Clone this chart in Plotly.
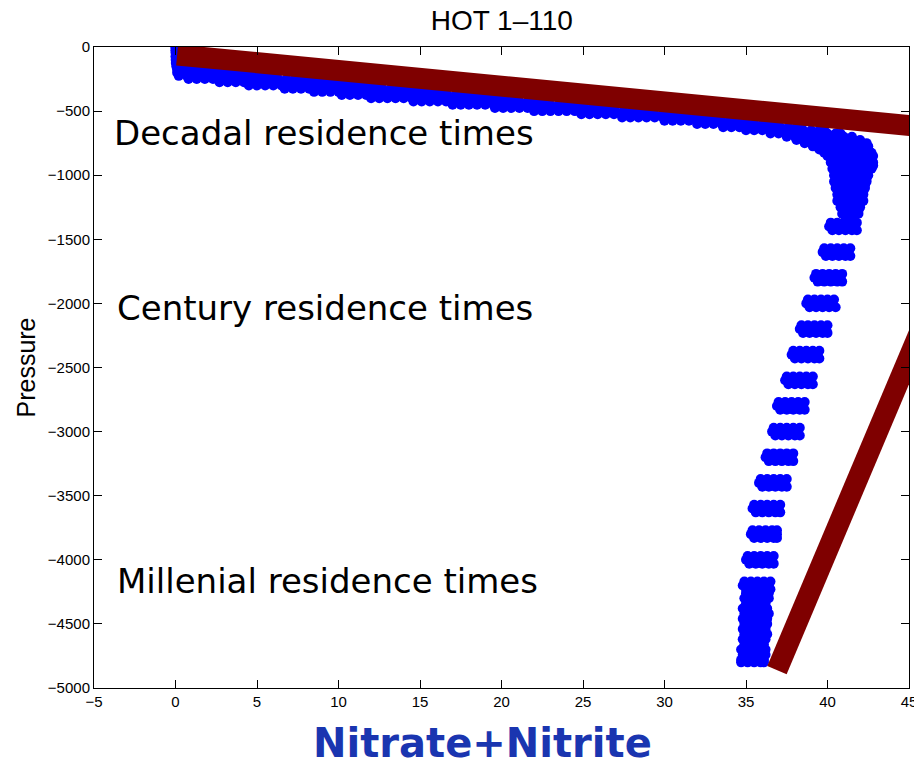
import plotly.graph_objects as go

# ---- Data (HOT cruises 1-110 nitrate+nitrite profiles) ----
# Each pressure level holds the nitrate+nitrite values observed there.
pressure_levels = [
    -5, -25, -45, -75, -100, -125, -150, -175, -200, -225,
    -250, -275, -300, -325, -350, -375, -400, -425, -450, -475,
    -500, -525, -550, -575, -600, -625, -650, -675, -700, -725,
    -750, -775, -800, -825, -850, -875, -900, -925, -950, -975,
    -1000, -1025, -1050, -1075, -1100, -1125, -1150, -1175, -1200, -1225,
    -1250, -1275, -1300, -1325,
    -1370, -1400, -1430,
    -1570, -1600, -1630,
    -1770, -1800, -1830,
    -1970, -2000, -2030,
    -2170, -2200, -2230,
    -2370, -2400, -2430,
    -2570, -2600, -2630,
    -2770, -2800, -2830,
    -2970, -3000, -3030,
    -3170, -3200, -3230,
    -3370, -3400, -3430,
    -3570, -3600, -3630,
    -3770, -3800, -3830,
    -3970, -4000, -4030,
    -4170, -4200, -4230,
    -4260, -4300, -4340, -4380, -4420, -4460, -4500, -4540, -4580, -4620,
    -4660, -4700, -4740, -4780, -4800,
]

nitrate_at_level = [
    [0.0, 0.01, 0.05],
    [0.0, 0.02, 0.1],
    [0.0, 0.03, 0.1],
    [0.0, 0.05, 0.15],
    [0.01, 0.1, 0.3],
    [0.02, 0.2, 0.6],
    [0.05, 0.4, 0.8, 1.2],
    [0.1, 0.5, 1.0, 1.5, 2.0, 2.5, 3.0],
    [0.1, 0.5, 1.0, 1.5, 2.0, 2.5, 3.0, 3.5, 4.0, 4.5],
    [0.2, 0.7, 1.2, 1.7, 2.2, 2.7, 3.2, 3.7, 4.2, 4.7, 5.2, 5.7, 6.2],
    [0.8, 1.3, 1.8, 2.3, 2.8, 3.3, 3.8, 4.3, 4.8, 5.3, 5.8, 6.3, 6.8, 7.3, 7.8, 8.3, 8.8],
    [2.7, 3.2, 3.7, 4.2, 4.7, 5.2, 5.7, 6.2, 6.7, 7.2, 7.7, 8.2, 8.7, 9.2, 9.7, 10.2, 10.6],
    [4.5, 5.0, 5.5, 6.0, 6.5, 7.0, 7.5, 8.0, 8.5, 9.0, 9.5, 10.0, 10.5, 11.0, 11.5, 12.0, 12.5],
    [6.7, 7.2, 7.7, 8.2, 8.7, 9.2, 9.7, 10.2, 10.7, 11.2, 11.7, 12.2, 12.7, 13.2, 13.7, 14.2, 14.6],
    [8.5, 9.0, 9.5, 10.0, 10.5, 11.0, 11.5, 12.0, 12.5, 13.0, 13.5, 14.0, 14.5, 15.0, 15.5, 16.0, 16.5],
    [10.2, 10.7, 11.2, 11.7, 12.2, 12.7, 13.2, 13.7, 14.2, 14.7, 15.2, 15.7, 16.2, 16.7, 17.2, 17.7, 18.2, 18.7, 19.0],
    [12.0, 12.5, 13.0, 13.5, 14.0, 14.5, 15.0, 15.5, 16.0, 16.5, 17.0, 17.5, 18.0, 18.5, 19.0, 19.5, 20.0, 20.5, 20.8],
    [14.6, 15.1, 15.6, 16.1, 16.6, 17.1, 17.6, 18.1, 18.6, 19.1, 19.6, 20.1, 20.6, 21.1, 21.6, 22.1, 22.5],
    [17.0, 17.5, 18.0, 18.5, 19.0, 19.5, 20.0, 20.5, 21.0, 21.5, 22.0, 22.5, 23.0, 23.5, 24.0, 24.5, 25.0],
    [19.6, 20.1, 20.6, 21.1, 21.6, 22.1, 22.6, 23.1, 23.6, 24.1, 24.6, 25.1, 25.6, 26.1, 26.6, 26.9],
    [22.0, 22.5, 23.0, 23.5, 24.0, 24.5, 25.0, 25.5, 26.0, 26.5, 27.0, 27.5, 28.0, 28.5, 29.0],
    [24.9, 25.4, 25.9, 26.4, 26.9, 27.4, 27.9, 28.4, 28.9, 29.4, 29.9, 30.4, 30.9, 31.1],
    [27.4, 27.9, 28.4, 28.9, 29.4, 29.9, 30.4, 30.9, 31.4, 31.9, 32.4, 32.9, 33.2],
    [30.0, 30.5, 31.0, 31.5, 32.0, 32.5, 33.0, 33.5, 34.0, 34.5, 35.0],
    [32.0, 32.5, 33.0, 33.5, 34.0, 34.5, 35.0, 35.5, 36.0, 36.5, 36.9],
    [33.6, 34.1, 34.6, 35.1, 35.6, 36.1, 36.6, 37.1, 37.6, 38.1, 38.4],
    [35.0, 35.5, 36.0, 36.5, 37.0, 37.5, 38.0, 38.5, 39.0, 39.5, 39.8],
    [36.5, 37.0, 37.5, 38.0, 38.5, 39.0, 39.5, 40.0, 40.5, 40.8],
    [37.5, 38.0, 38.5, 39.0, 39.5, 40.0, 40.5, 41.0, 41.5],
    [38.1, 38.6, 39.1, 39.6, 40.1, 40.6, 41.1, 41.6, 42.0],
    [38.6, 39.1, 39.6, 40.1, 40.6, 41.1, 41.6, 42.1, 42.4],
    [39.1, 39.6, 40.1, 40.6, 41.1, 41.6, 42.1, 42.5],
    [39.5, 40.1, 40.7, 41.3, 41.9, 42.5],
    [39.8, 40.4, 41.0, 41.6, 42.2, 42.7],
    [40.0, 40.6, 41.2, 41.8, 42.4, 42.8],
    [40.3, 40.9, 41.5, 42.1, 42.7],
    [40.2, 40.8, 41.4, 42.0, 42.6, 42.8],
    [40.5, 41.1, 41.7, 42.3, 42.8],
    [40.3, 40.9, 41.5, 42.1, 42.7],
    [40.6, 41.2, 41.8, 42.4],
    [40.4, 41.0, 41.6, 42.2, 42.5],
    [40.7, 41.3, 41.9, 42.4],
    [40.4, 41.0, 41.6, 42.2, 42.4],
    [40.7, 41.3, 41.9, 42.3],
    [40.5, 41.1, 41.7, 42.3],
    [40.8, 41.4, 42.0, 42.2],
    [40.6, 41.2, 41.8, 42.2],
    [40.9, 41.5, 42.1],
    [40.6, 41.2, 41.8, 42.2],
    [40.9, 41.5, 42.0],
    [40.8, 41.4, 42.0],
    [41.1, 41.6, 41.9],
    [40.9, 41.4, 41.9],
    [41.1, 41.6],
    # 1400
    [40.2, 40.6, 41.0, 41.4, 41.8],
    [40.1, 40.5, 40.9, 41.3, 41.7],
    [40.3, 40.7, 41.1, 41.5, 41.8],
    # 1600
    [39.8, 40.2, 40.6, 41.0, 41.4],
    [39.7, 40.1, 40.5, 40.9, 41.3],
    [39.9, 40.3, 40.7, 41.1, 41.4],
    # 1800
    [39.3, 39.7, 40.1, 40.5, 40.9],
    [39.2, 39.6, 40.0, 40.4, 40.8],
    [39.4, 39.8, 40.2, 40.6, 40.9],
    # 2000
    [38.8, 39.2, 39.6, 40.0, 40.4],
    [38.7, 39.1, 39.5, 39.9, 40.3],
    [38.9, 39.3, 39.7, 40.1, 40.5],
    # 2200
    [38.4, 38.8, 39.2, 39.6, 40.0],
    [38.3, 38.7, 39.1, 39.5, 39.9],
    [38.5, 38.9, 39.3, 39.7, 40.0],
    # 2400
    [37.9, 38.3, 38.7, 39.1, 39.5],
    [37.8, 38.2, 38.6, 39.0, 39.4],
    [38.0, 38.4, 38.8, 39.2, 39.5],
    # 2600
    [37.5, 37.9, 38.3, 38.7, 39.1],
    [37.4, 37.8, 38.2, 38.6, 39.0],
    [37.6, 38.0, 38.4, 38.8, 39.1],
    # 2800
    [37.0, 37.4, 37.8, 38.2, 38.6],
    [36.9, 37.3, 37.7, 38.1, 38.5],
    [37.1, 37.5, 37.9, 38.3, 38.6],
    # 3000
    [36.7, 37.1, 37.5, 37.9, 38.3],
    [36.6, 37.0, 37.4, 37.8, 38.2],
    [36.8, 37.2, 37.6, 38.0, 38.3],
    # 3200
    [36.3, 36.7, 37.1, 37.5, 37.9],
    [36.2, 36.6, 37.0, 37.4, 37.8],
    [36.4, 36.8, 37.2, 37.6, 37.9],
    # 3400
    [35.9, 36.3, 36.7, 37.1, 37.5],
    [35.8, 36.2, 36.6, 37.0, 37.4],
    [36.0, 36.4, 36.8, 37.2, 37.5],
    # 3600
    [35.5, 35.9, 36.3, 36.7, 37.1],
    [35.4, 35.8, 36.2, 36.6, 37.0],
    [35.6, 36.0, 36.4, 36.8, 37.1],
    # 3800
    [35.4, 35.8, 36.2, 36.6, 36.9],
    [35.3, 35.7, 36.1, 36.5, 36.9],
    [35.5, 35.9, 36.3, 36.7, 36.9],
    # 4000
    [35.1, 35.5, 35.9, 36.3, 36.7],
    [35.0, 35.4, 35.8, 36.2, 36.6],
    [35.2, 35.6, 36.0, 36.4, 36.7],
    # 4200
    [34.9, 35.3, 35.7, 36.1, 36.5],
    [34.8, 35.2, 35.6, 36.0, 36.4],
    [35.0, 35.4, 35.8, 36.2, 36.5],
    # near-bottom
    [35.0, 35.4, 35.8, 36.2, 36.4],
    [34.9, 35.3, 35.7, 36.1, 36.4],
    [35.0, 35.4, 35.8, 36.2],
    [34.8, 35.2, 35.6, 36.0, 36.3],
    [34.9, 35.3, 35.7, 36.1, 36.4],
    [34.8, 35.2, 35.6, 36.0, 36.3],
    [34.9, 35.3, 35.7, 36.1, 36.3],
    [34.8, 35.2, 35.6, 36.0, 36.2],
    [34.9, 35.3, 35.7, 36.1, 36.3],
    [34.8, 35.2, 35.6, 36.0, 36.2],
    [34.9, 35.3, 35.7, 36.1],
    [34.7, 35.1, 35.5, 35.9, 36.2],
    [34.8, 35.2, 35.6, 36.0, 36.2],
    [34.7, 35.1, 35.5, 35.9, 36.1],
    [34.7, 35.1, 35.5, 35.9, 36.1],
]

# Hand-drawn guide lines (nitrate, pressure endpoints)
decadal_line_nitrate = [0.1, 46.0]
decadal_line_pressure = [-62, -624]
millenial_line_nitrate = [36.9, 47.0]
millenial_line_pressure = [-4860, -1817]

# Text labels
title_text = "HOT 1\u2013110"
x_title = "Nitrate+Nitrite"
y_title = "Pressure"
region_labels = ["Decadal residence times", "Century residence times", "Millenial residence times"]
region_label_pressure = [-671, -2036, -4165]
region_label_nitrate = [-3.9, -3.7, -3.7]

x_ticks = list(range(-5, 50, 5))
y_ticks = list(range(-5000, 500, 500))

# ---- Build the figure ----
pts_x, pts_y = [], []
for p, vals in zip(pressure_levels, nitrate_at_level):
    for v in vals:
        pts_x.append(v)
        pts_y.append(p)

fig = go.Figure()
fig.add_trace(go.Scatter(
    x=pts_x, y=pts_y, mode="markers",
    marker=dict(symbol="circle", size=10, color="#0000ff", line=dict(width=0)),
    showlegend=False, hoverinfo="skip",
))
for lx, ly in [(decadal_line_nitrate, decadal_line_pressure),
               (millenial_line_nitrate, millenial_line_pressure)]:
    fig.add_trace(go.Scatter(
        x=lx, y=ly, mode="lines",
        line=dict(color="#7f0000", width=21),
        showlegend=False, hoverinfo="skip",
    ))

for txt, px_, py_ in zip(region_labels, region_label_nitrate, region_label_pressure):
    fig.add_annotation(
        x=px_, y=py_, xref="x", yref="y", text=txt, showarrow=False,
        xanchor="left", yanchor="middle",
        font=dict(family="DejaVu Sans", size=34, color="black"),
    )

# x-axis title placed as in the reference (slightly left of centre)
fig.add_annotation(
    x=0.477, y=-0.086, xref="paper", yref="paper", text="<b>" + x_title + "</b>",
    showarrow=False, xanchor="center", yanchor="middle",
    font=dict(family="DejaVu Sans", size=40, color="#1a35b0"),
)

axis_font = dict(family="Liberation Sans, Arial", size=15, color="black")
fig.update_layout(
    width=914, height=769,
    margin=dict(l=94, r=5, t=47, b=81),
    paper_bgcolor="white", plot_bgcolor="white",
    title=dict(text=title_text, x=0.549, xanchor="center", y=0.974, yanchor="middle",
               font=dict(family="Liberation Sans, Arial", size=28, color="black")),
    xaxis=dict(
        range=[-5, 45], tickvals=x_ticks, ticks="inside", ticklen=8, tickcolor="black",
        showline=True, linecolor="black", linewidth=1, mirror="ticks",
        showgrid=False, zeroline=False, tickfont=axis_font,
        ticklabeloverflow="allow", automargin=False,
    ),
    yaxis=dict(
        range=[-5000, 0], tickvals=y_ticks, ticks="inside", ticklen=8, tickcolor="black",
        showline=True, linecolor="black", linewidth=1, mirror="ticks",
        showgrid=False, zeroline=False, tickfont=axis_font, automargin=False,
        title=dict(text=y_title, standoff=5,
                   font=dict(family="Liberation Sans, Arial", size=25, color="black")),
    ),
)

fig.write_html("out.html")
